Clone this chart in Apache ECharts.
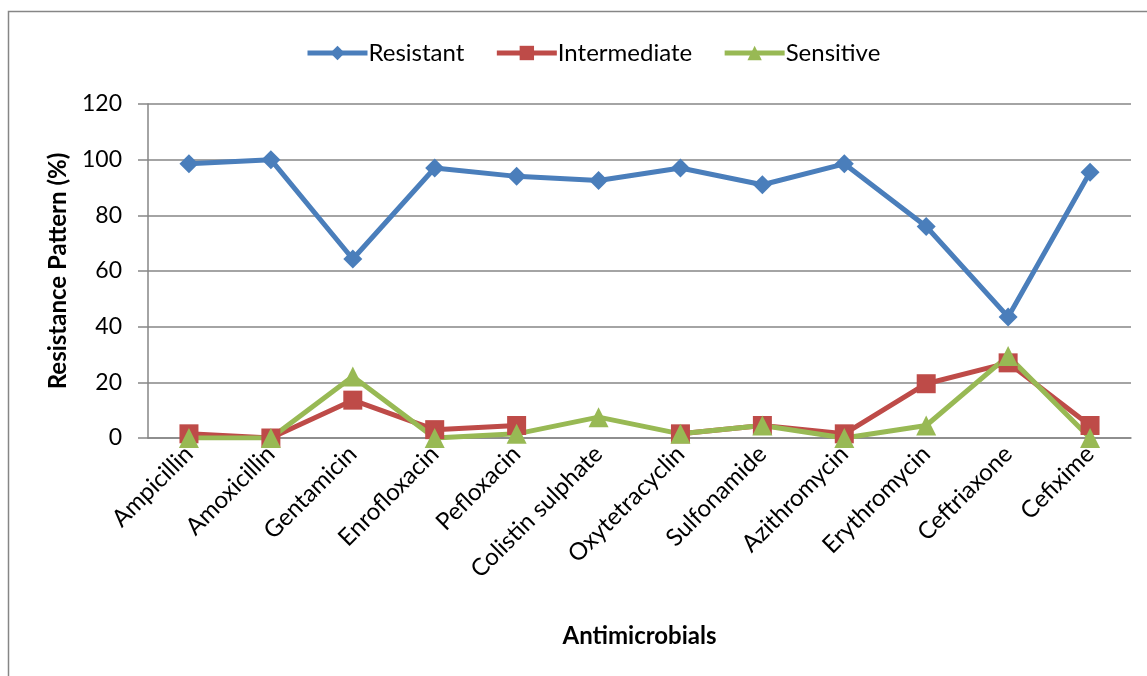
<!DOCTYPE html>
<html>
<head>
<meta charset="utf-8">
<script src="https://cdn.jsdelivr.net/npm/echarts@6/dist/echarts.min.js"></script>
<style>
  html, body { margin: 0; padding: 0; background: #fff; }
  #chart { width: 1147px; height: 676px; }
</style>
</head>
<body>
<div id="chart"></div>
<script>
// Antimicrobial resistance pattern by drug (%)
const categories = ['Ampicillin', 'Amoxicillin', 'Gentamicin', 'Enrofloxacin', 'Pefloxacin',
  'Colistin sulphate', 'Oxytetracyclin', 'Sulfonamide', 'Azithromycin', 'Erythromycin',
  'Ceftriaxone', 'Cefixime'];
const resistant    = [98.5, 100, 64.3, 97, 94, 92.5, 97, 91, 98.5, 76, 43.5, 95.5];
const intermediate = [1.5, 0, 13.6, 3, 4.5, null, 1.5, 4.5, 1.5, 19.5, 27, 4.5];
const sensitive    = [0, 0, 22.1, 0, 1.5, 7.5, 1.5, 4.5, 0, 4.5, 29.5, 0];
const yTicks = { min: 0, max: 120, interval: 20 };

const FONT = 'Lato, "Open Sans", sans-serif';
const chart = echarts.init(document.getElementById('chart'), null, { renderer: 'canvas' });

function lineSeries(name, data, color, symbol, size) {
  return {
    name, type: 'line', data,
    connectNulls: false,
    symbol, symbolSize: size,
    lineStyle: { width: 5, color },
    itemStyle: { color },
    emphasis: { disabled: true },
    animation: false
  };
}

chart.setOption({
  backgroundColor: '#fff',
  textStyle: { fontFamily: FONT },
  graphic: [{
    type: 'rect', silent: true, z: -10,
    shape: { x: 8.5, y: 11.5, width: 1300, height: 800 },
    style: { fill: 'none', stroke: '#868686', lineWidth: 1.5 }
  }],
  legend: {
    top: 36, left: 300,
    itemWidth: 60, itemHeight: 18, itemGap: 30,
    lineStyle: { width: 5 },
    textStyle: { fontFamily: FONT, fontSize: 24, color: '#000', padding: [0, 0, 0, -4] },
    data: ['Resistant', 'Intermediate', 'Sensitive']
  },
  grid: { left: 148, right: 16, top: 104, bottom: 238, containLabel: false },
  xAxis: {
    type: 'category', data: categories, boundaryGap: true,
    name: 'Antimicrobials', nameLocation: 'middle', nameGap: 186,
    nameTextStyle: { fontFamily: FONT, fontSize: 24, fontWeight: 'bold', color: '#000' },
    axisLine: { lineStyle: { color: '#868686', width: 1.5 } },
    axisTick: { show: false },
    axisLabel: { rotate: 45, margin: 12, fontFamily: FONT, fontSize: 24, color: '#000' },
    splitLine: { show: false }
  },
  yAxis: {
    type: 'value', min: yTicks.min, max: yTicks.max, interval: yTicks.interval,
    name: 'Resistance Pattern (%)', nameLocation: 'middle', nameGap: 78, nameRotate: 90,
    nameTextStyle: { fontFamily: FONT, fontSize: 24, fontWeight: 'bold', color: '#000' },
    axisLine: { show: true, lineStyle: { color: '#868686', width: 1.5 } },
    axisTick: { show: true, length: 10, lineStyle: { color: '#868686', width: 1.5 } },
    axisLabel: { margin: 26, fontFamily: FONT, fontSize: 23, color: '#000' },
    splitLine: { show: true, lineStyle: { color: '#868686', width: 1.5 } }
  },
  series: [
    lineSeries('Resistant', resistant, '#4A7EBB', 'diamond', 19),
    lineSeries('Intermediate', intermediate, '#BE4B48', 'rect', 19),
    lineSeries('Sensitive', sensitive, '#98B954', 'triangle', 20)
  ]
});
</script>
</body>
</html>
